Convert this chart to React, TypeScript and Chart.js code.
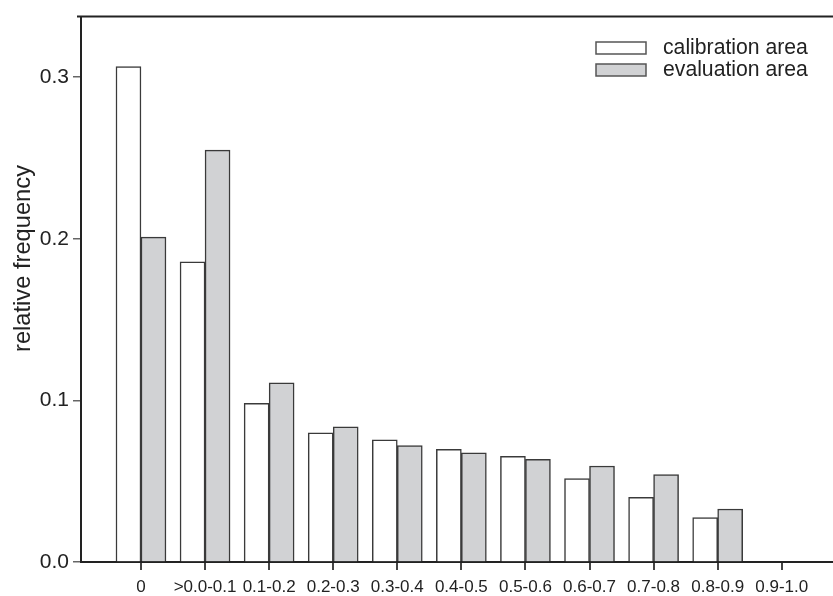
import React, { useEffect, useRef } from 'react';
import { Chart, registerables } from 'chart.js';

Chart.register(...registerables);

const categories = ['0', '>0.0-0.1', '0.1-0.2', '0.2-0.3', '0.3-0.4', '0.4-0.5', '0.5-0.6', '0.6-0.7', '0.7-0.8', '0.8-0.9', '0.9-1.0'];
const calibration = [0.3065, 0.1857, 0.0982, 0.0799, 0.0756, 0.0697, 0.0654, 0.0516, 0.040, 0.0275, 0];
const evaluation = [0.201, 0.2549, 0.1108, 0.0836, 0.0721, 0.0676, 0.0635, 0.0594, 0.0541, 0.0328, 0];
const yTicks = [0, 0.1, 0.2, 0.3];
const seriesNames = ['calibration area', 'evaluation area'];
const yTitle = 'relative frequency';

const FONT = '"Liberation Sans", Arial, sans-serif';
const INK = '#222222';

const extras = {
  id: 'extras',
  afterDraw(chart: any) {
    const ctx = chart.ctx as CanvasRenderingContext2D;
    const { top, left } = chart.chartArea;
    ctx.save();
    // top frame line
    ctx.strokeStyle = INK;
    ctx.lineWidth = 2;
    ctx.beginPath();
    ctx.moveTo(left - 4, top);
    ctx.lineTo(chart.width, top);
    ctx.stroke();

    // y axis title
    ctx.save();
    ctx.translate(30, 258.5);
    ctx.rotate(-Math.PI / 2);
    ctx.font = `23.7px ${FONT}`;
    ctx.textAlign = 'center';
    ctx.textBaseline = 'alphabetic';
    ctx.fillStyle = INK;
    ctx.fillText(yTitle, 0, 0);
    ctx.restore();

    // legend
    const ds = chart.data.datasets;
    ds.forEach((d: any, i: number) => {
      const bx = 596;
      const by = 42 + i * 22;
      ctx.fillStyle = d.backgroundColor;
      ctx.fillRect(bx, by, 50, 12);
      ctx.strokeStyle = '#555';
      ctx.lineWidth = 1.5;
      ctx.strokeRect(bx, by, 50, 12);
      ctx.fillStyle = INK;
      ctx.font = `21.2px ${FONT}`;
      ctx.textAlign = 'left';
      ctx.textBaseline = 'middle';
      ctx.fillText(d.label, 663, by + 6);
    });
    ctx.restore();
  },
};

export default function App() {
  const ref = useRef<HTMLCanvasElement | null>(null);

  useEffect(() => {
    if (!ref.current) return;
    const chart = new Chart(ref.current, {
      type: 'bar',
      data: {
        datasets: [
          {
            label: seriesNames[0],
            data: calibration.map((v, i) => ({ x: i, y: v })),
            backgroundColor: '#ffffff',
            borderColor: '#3a3a3a',
            borderWidth: 1.5,
            barThickness: 25,
          },
          {
            label: seriesNames[1],
            data: evaluation.map((v, i) => ({ x: i, y: v })),
            backgroundColor: '#d1d2d4',
            borderColor: '#3a3a3a',
            borderWidth: 1.5,
            barThickness: 25,
          },
        ],
      },
      options: {
        responsive: false,
        animation: false,
        devicePixelRatio: 1,
        layout: { padding: { top: 13, left: 0, right: 0, bottom: 0 } },
        plugins: { legend: { display: false }, tooltip: { enabled: false } },
        scales: {
          x: {
            type: 'linear',
            min: -0.936,
            max: 10.8,
            offset: false,
            afterBuildTicks: (scale: any) => {
              scale.ticks = categories.map((_, i) => ({ value: i }));
            },
            afterFit: (scale: any) => {
              scale.height = 34;
            },
            ticks: {
              autoSkip: false,
              maxRotation: 0,
              minRotation: 0,
              padding: 7,
              color: INK,
              font: { family: FONT, size: 17 },
              callback: (v: any) => categories[Math.round(Number(v))] ?? '',
            },
            grid: { display: true, offset: false, drawOnChartArea: false, drawTicks: true, tickLength: 8, color: '#444', lineWidth: 2 },
            border: { display: true, color: INK, width: 2 },
          },
          y: {
            type: 'linear',
            min: 0,
            max: 0.3375,
            afterBuildTicks: (scale: any) => {
              scale.ticks = yTicks.map((v) => ({ value: v }));
            },
            afterFit: (scale: any) => {
              scale.width = 81;
            },
            ticks: {
              padding: 4,
              color: INK,
              font: { family: FONT, size: 21 },
              callback: (v: any) => Number(v).toFixed(1),
            },
            grid: { display: true, drawOnChartArea: false, drawTicks: true, tickLength: 8, color: '#666', lineWidth: 1.5 },
            border: { display: true, color: INK, width: 2 },
          },
        },
      },
      plugins: [extras],
    });
    return () => chart.destroy();
  }, []);

  return (
    <div style={{ position: 'absolute', left: 0, top: 0, width: 833, height: 596, background: '#fff' }}>
      <canvas ref={ref} width={833} height={596} />
    </div>
  );
}
